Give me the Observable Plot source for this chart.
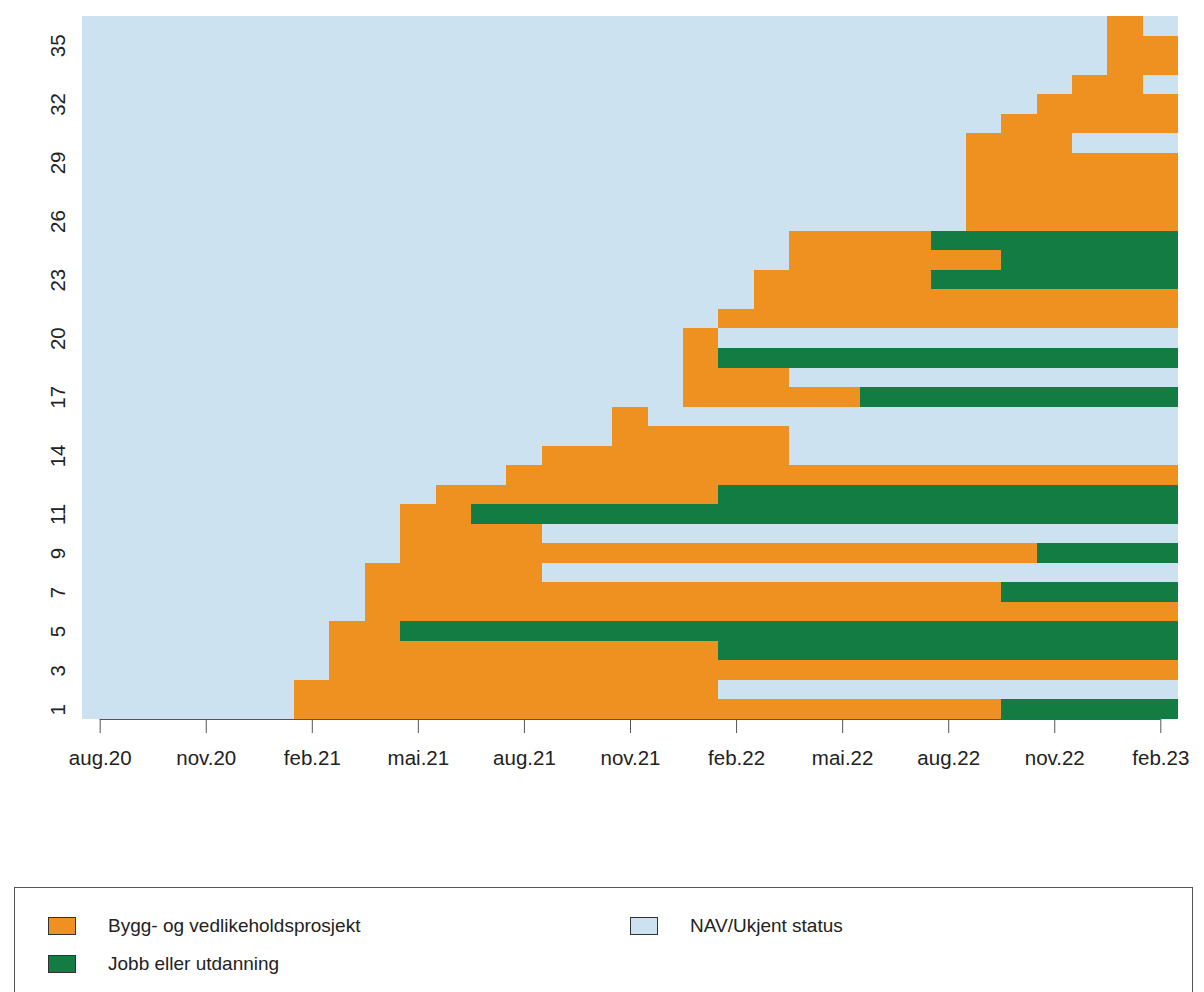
<!DOCTYPE html>
<html>
<head>
<meta charset="utf-8">
<script src="https://cdn.jsdelivr.net/npm/d3@7"></script>
<script src="https://cdn.jsdelivr.net/npm/@observablehq/plot@0.6"></script>
<style>
  html, body { margin: 0; padding: 0; background: #fff; }
  body { font-family: "Liberation Sans", Arial, sans-serif; width: 1204px; height: 992px; position: relative; overflow: hidden; }
  #legend { position: absolute; left: 14px; top: 887px; width: 1179px; height: 130px; border: 1.5px solid #555; box-sizing: border-box; }
  .item { position: absolute; display: flex; align-items: center; font-size: 19px; color: #222; }
  .sw { width: 28px; height: 18px; border: 1.5px solid #333; box-sizing: border-box; margin-right: 32px; }
</style>
</head>
<body>
<div id="chart"></div>
<div id="legend"></div>
<script>
// ---- data ----
const months = ["aug.20","sep.20","okt.20","nov.20","des.20","jan.21","feb.21","mar.21","apr.21","mai.21","jun.21","jul.21",
  "aug.21","sep.21","okt.21","nov.21","des.21","jan.22","feb.22","mar.22","apr.22","mai.22","jun.22","jul.22",
  "aug.22","sep.22","okt.22","nov.22","des.22","jan.23","feb.23"];
const xTicks = ["aug.20","nov.20","feb.21","mai.21","aug.21","nov.21","feb.22","mai.22","aug.22","nov.22","feb.23"];
const yTicks = [1,3,5,7,9,11,14,17,20,23,26,29,32,35];

const statuses = ["Bygg- og vedlikeholdsprosjekt", "Jobb eller utdanning", "NAV/Ukjent status"];
const statusColors = ["#EE9120", "#127C42", "#CCE2F0"];
const B = statuses[0], J = statuses[1], N = statuses[2];

// each person (row 1..36): runs of [status, number of months] from aug.20
const rowRuns = [
  [[N,6],[B,20],[J,5]],          // 1
  [[N,6],[B,12],[N,13]],         // 2
  [[N,7],[B,24]],                // 3
  [[N,7],[B,11],[J,13]],         // 4
  [[N,7],[B,2],[J,22]],          // 5
  [[N,8],[B,23]],                // 6
  [[N,8],[B,18],[J,5]],          // 7
  [[N,8],[B,5],[N,18]],          // 8
  [[N,9],[B,18],[J,4]],          // 9
  [[N,9],[B,4],[N,18]],          // 10
  [[N,9],[B,2],[J,20]],          // 11
  [[N,10],[B,8],[J,13]],         // 12
  [[N,12],[B,19]],               // 13
  [[N,13],[B,7],[N,11]],         // 14
  [[N,15],[B,5],[N,11]],         // 15
  [[N,15],[B,1],[N,15]],         // 16
  [[N,17],[B,5],[J,9]],          // 17
  [[N,17],[B,3],[N,11]],         // 18
  [[N,17],[B,1],[J,13]],         // 19
  [[N,17],[B,1],[N,13]],         // 20
  [[N,18],[B,13]],               // 21
  [[N,19],[B,12]],               // 22
  [[N,19],[B,5],[J,7]],          // 23
  [[N,20],[B,6],[J,5]],          // 24
  [[N,20],[B,4],[J,7]],          // 25
  [[N,25],[B,6]],                // 26
  [[N,25],[B,6]],                // 27
  [[N,25],[B,6]],                // 28
  [[N,25],[B,6]],                // 29
  [[N,25],[B,3],[N,3]],          // 30
  [[N,26],[B,5]],                // 31
  [[N,27],[B,4]],                // 32
  [[N,28],[B,2],[N,1]],          // 33
  [[N,29],[B,2]],                // 34
  [[N,29],[B,2]],                // 35
  [[N,29],[B,1],[N,1]]           // 36
];

// ---- build cell table ----
const rows = rowRuns.map((_, i) => i + 1);
const cells = [];
rowRuns.forEach((runs, i) => {
  let m = 0;
  for (const [status, count] of runs) {
    for (let k = 0; k < count; k++, m++) {
      if (m < months.length) cells.push({row: rows[i], month: months[m], status});
    }
  }
});

const W = 1204, H = 880, MB = 161;
const plot = Plot.plot({
  width: W,
  height: H,
  marginLeft: 82,
  marginRight: 26,
  marginTop: 16,
  marginBottom: MB,
  style: { fontFamily: "Liberation Sans, Arial, sans-serif", background: "#fff", color: "#222" },
  x: { type: "band", domain: months, padding: 0, round: false, label: null },
  y: { type: "band", domain: rows.slice().reverse(), padding: 0, round: false, label: null },
  color: { domain: statuses, range: statusColors },
  marks: [
    Plot.cell(cells, { x: "month", y: "row", fill: "status", inset: 0, shapeRendering: "crispEdges" }),
    Plot.axisX({ ticks: xTicks, tickSize: 14, tickPadding: 17, fontSize: 20.5, label: null, stroke: "#555" }),
    Plot.axisY({ ticks: yTicks, tickSize: 0, tickPadding: 18, tickRotate: -90, fontSize: 20.5, label: null })
  ]
});
document.getElementById("chart").appendChild(plot);

// axis baseline spanning the first to the last labelled tick (R style)
const xs = plot.scale("x");
const bw = xs.bandwidth;
d3.select(plot).append("line")
  .attr("x1", xs.apply(xTicks[0]) + bw / 2)
  .attr("x2", xs.apply(xTicks[xTicks.length - 1]) + bw / 2)
  .attr("y1", H - MB + 0.5)
  .attr("y2", H - MB + 0.5)
  .attr("stroke", "#555")
  .attr("stroke-width", 1.2);

// ---- legend ----
const legend = document.getElementById("legend");
const legendPos = [
  { left: 33, top: 27 },
  { left: 33, top: 65 },
  { left: 615, top: 27 }
];
statuses.forEach((s, i) => {
  const it = document.createElement("div");
  it.className = "item";
  it.style.left = legendPos[i].left + "px";
  it.style.top = legendPos[i].top + "px";
  const sw = document.createElement("div");
  sw.className = "sw";
  sw.style.background = statusColors[i];
  const tx = document.createElement("span");
  tx.textContent = s;
  it.appendChild(sw);
  it.appendChild(tx);
  legend.appendChild(it);
});
</script>
</body>
</html>
